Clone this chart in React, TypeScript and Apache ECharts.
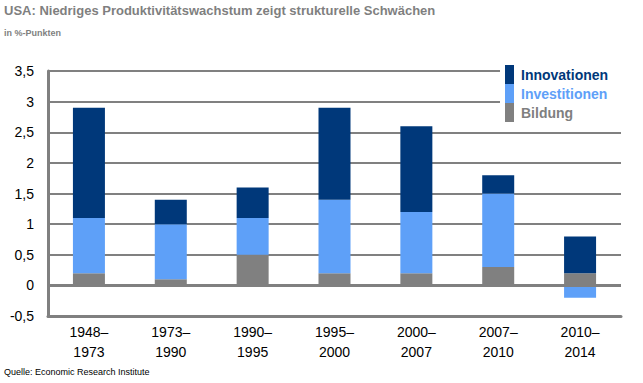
import React, { useEffect, useRef } from "react";
import * as echarts from "echarts";

const categories = ["1948–\n1973", "1973–\n1990", "1990–\n1995", "1995–\n2000", "2000–\n2007", "2007–\n2010", "2010–\n2014"];
const bildung = [0.2, 0.1, 0.5, 0.2, 0.2, 0.3, 0.2];
const investitionen = [0.9, 0.9, 0.6, 1.2, 1.0, 1.2, -0.2];
const innovationen = [1.8, 0.4, 0.5, 1.5, 1.4, 0.3, 0.6];

const FONT = "'Liberation Sans', Arial, sans-serif";
const C_INNO = "#00387a";
const C_INV = "#5ea0f8";
const C_BIL = "#808080";

export default function App() {
  const ref = useRef<HTMLDivElement>(null);
  useEffect(() => {
    const chart = echarts.init(ref.current!, null, { renderer: "svg" });
    chart.setOption({
      animation: false,
      textStyle: { fontFamily: FONT },
      title: [
        {
          text: "USA: Niedriges Produktivitätswachstum zeigt strukturelle Schwächen",
          left: 4, top: 4, padding: 0,
          textStyle: { fontFamily: FONT, fontSize: 13, fontWeight: "bold", color: "#7f7f7f" },
        },
        {
          text: "in %-Punkten",
          left: 4, top: 28, padding: 0,
          textStyle: { fontFamily: FONT, fontSize: 9, fontWeight: "bold", color: "#7f7f7f" },
        },
        {
          text: "Quelle: Economic Research Institute",
          left: 4, top: 367, padding: 0,
          textStyle: { fontFamily: FONT, fontSize: 9, fontWeight: "normal", color: "#000" },
        },
      ],
      legend: {
        orient: "vertical",
        left: 500,
        top: 63,
        padding: [2, 14, 2, 5],
        backgroundColor: "#fff",
        itemWidth: 9,
        itemHeight: 19,
        itemGap: 0,
        icon: "rect",
        data: [
          { name: "Innovationen", textStyle: { color: C_INNO } },
          { name: "Investitionen", textStyle: { color: C_INV } },
          { name: "Bildung", textStyle: { color: "#7f7f7f" } },
        ],
        textStyle: { fontFamily: FONT, fontSize: 14, fontWeight: "bold", padding: [0, 0, 0, 2] },
      },
      grid: { left: 48, right: 22, top: 71, bottom: 67 },
      xAxis: {
        type: "category",
        data: categories,
        axisLine: { onZero: false, lineStyle: { color: "#808080", width: 3 } },
        axisTick: { show: false },
        axisLabel: { color: "#000", fontSize: 14, fontFamily: FONT, lineHeight: 20, margin: 6 },
      },
      yAxis: {
        type: "value",
        min: -0.5,
        max: 3.5,
        interval: 0.5,
        axisLine: { show: true, lineStyle: { color: "#808080", width: 3 } },
        axisTick: { show: false },
        splitLine: { lineStyle: { color: "#808080", width: 2 } },
        axisLabel: {
          color: "#000", fontSize: 14, fontFamily: FONT, margin: 14,
          formatter: (v: number) => String(Math.round(v * 10) / 10).replace(".", ","),
        },
      },
      series: [
        {
          name: "Bildung", type: "bar", stack: "a", data: bildung, barWidth: 32,
          itemStyle: { color: C_BIL },
          markLine: {
            silent: true, symbol: "none", label: { show: false },
            lineStyle: { color: "#808080", width: 3, type: "solid" },
            data: [{ yAxis: 0 }],
          },
        },
        { name: "Investitionen", type: "bar", stack: "a", data: investitionen, barWidth: 32, itemStyle: { color: C_INV } },
        { name: "Innovationen", type: "bar", stack: "a", data: innovationen, barWidth: 32, itemStyle: { color: C_INNO } },
      ],
    });
    return () => chart.dispose();
  }, []);
  return <div ref={ref} style={{ width: 643, height: 383, position: "absolute", left: 0, top: 0 }} />;
}
